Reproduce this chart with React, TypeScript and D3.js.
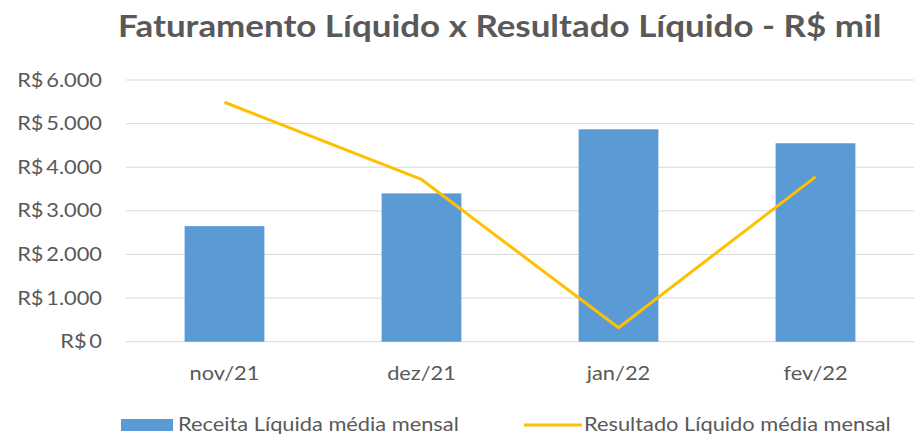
import React, { useEffect, useRef } from "react";
import * as d3 from "d3";

const months = ["nov/21", "dez/21", "jan/22", "fev/22"];
const receita = [2650, 3400, 4870, 4550];
const resultado = [5490, 3720, 320, 3780];
const yTicks = [0, 1000, 2000, 3000, 4000, 5000, 6000];

const W = 917;
const H = 435;
const FONT = "Lato, 'Open Sans', sans-serif";
const TXT = "#595959";
const SX = 1.18; // reference text is a bit wider than Lato

export default function App() {
  const ref = useRef<SVGSVGElement>(null);

  useEffect(() => {
    const svg = d3.select(ref.current);
    svg.selectAll("*").remove();

    const x = d3.scaleBand().domain(months).range([126, 914]).paddingInner(0.595).paddingOuter(0.2975);
    const y = d3.scaleLinear().domain([0, 6000]).range([341.7, 80]);

    // helper: text stretched horizontally around its anchor
    const label = (g: any, px: number, py: number, s: string, anchor: string, size: number, sx = SX, bold = false) =>
      g
        .append("text")
        .attr("transform", `translate(${px},${py}) scale(${sx},1)`)
        .attr("text-anchor", anchor)
        .attr("font-family", FONT)
        .attr("font-weight", bold ? "bold" : "normal")
        .attr("font-size", size)
        .attr("fill", TXT)
        .text(s);

    label(svg, 118, 37, "Faturamento Líquido x Resultado Líquido - R$ mil", "start", 30, 1.165, true);

    // gridlines
    svg
      .append("g")
      .selectAll("line")
      .data(yTicks)
      .enter()
      .append("line")
      .attr("x1", 126)
      .attr("x2", 914)
      .attr("y1", (d) => y(d))
      .attr("y2", (d) => y(d))
      .attr("stroke", "#D9D9D9")
      .attr("stroke-width", 1);

    const fmt = d3.format(",");
    const yg = svg.append("g");
    yTicks.forEach((d) => label(yg, 102, y(d) + 6.5, "R$\u2009" + fmt(d).replace(/,/g, "."), "end", 18.5));

    svg
      .append("g")
      .selectAll("rect")
      .data(receita)
      .enter()
      .append("rect")
      .attr("x", (d, i) => x(months[i])!)
      .attr("width", x.bandwidth())
      .attr("y", (d) => y(d))
      .attr("height", (d) => y(0) - y(d))
      .attr("fill", "#5B9BD5");

    const line = d3
      .line<number>()
      .x((d, i) => x(months[i])! + x.bandwidth() / 2)
      .y((d) => y(d));

    svg
      .append("path")
      .datum(resultado)
      .attr("d", line)
      .attr("fill", "none")
      .attr("stroke", "#FFC000")
      .attr("stroke-width", 3)
      .attr("stroke-linejoin", "round");

    const xg = svg.append("g");
    months.forEach((m) => label(xg, x(m)! + x.bandwidth() / 2, 380, m, "middle", 18.5));

    // legend
    const lg = svg.append("g");
    lg.append("rect").attr("x", 121).attr("y", 419).attr("width", 52).attr("height", 12).attr("fill", "#5B9BD5");
    label(lg, 178, 431, "Receita Líquida média mensal", "start", 18.5);
    lg.append("line")
      .attr("x1", 524)
      .attr("x2", 582)
      .attr("y1", 425)
      .attr("y2", 425)
      .attr("stroke", "#FFC000")
      .attr("stroke-width", 3);
    label(lg, 584, 431, "Resultado Líquido média mensal", "start", 18.5);
  }, []);

  return (
    <svg
      ref={ref}
      width={W}
      height={H}
      style={{ position: "absolute", left: 0, top: 0, background: "#fff" }}
    />
  );
}
